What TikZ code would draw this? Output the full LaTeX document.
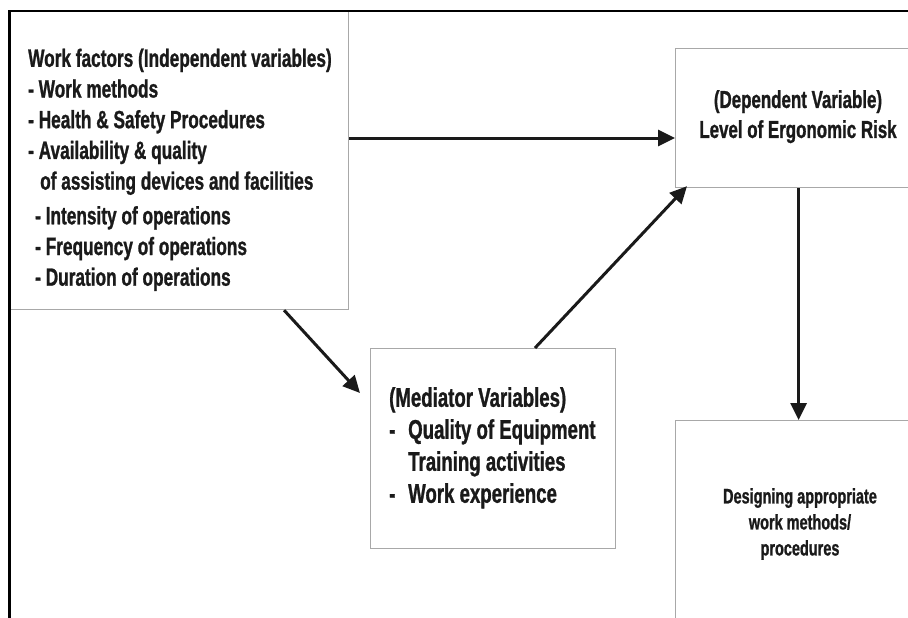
\documentclass[tikz,border=0pt]{standalone}
\usepackage{fontspec}
\newfontfamily\cond[FakeStretch=0.69,FakeBold=1]{Liberation Sans}
\usetikzlibrary{arrows.meta,calc}
\definecolor{ink}{HTML}{1A1A1A}
\definecolor{edge}{HTML}{A8A8A8}
\begin{document}
\begin{tikzpicture}[x=1pt,y=-1pt,
  box/.style={draw=edge,line width=1.2pt,fill=white,inner sep=0pt,anchor=north west},
  arr/.style={draw=ink,line width=3pt,-{Triangle[length=17pt,width=16pt]}},
  txt/.style={text=ink,inner sep=0pt}]
\useasboundingbox (0,0) rectangle (908,618);
% boxes
\node[box,minimum width=338pt,minimum height=298pt] (b1) at (10,11) {};
\node[box,minimum width=246pt,minimum height=139pt] (b2) at (675,48) {};
\node[box,minimum width=245pt,minimum height=200pt] (med) at (370,348) {};
\node[box,minimum width=246pt,minimum height=240pt] (b4) at (675,420) {};
% frame
\draw[line width=2.6pt,black] (9.5,640) -- (9.5,11) -- (920,11);
% texts
\node[txt,anchor=north west,align=left,font=\cond\bfseries\fontsize{25}{30.7}\selectfont] (t1) at (28,48.5)
 {Work factors (Independent variables)\\
  - Work methods\\
  - Health \& Safety Procedures\\
  - Availability \& quality\\
  \hspace*{12pt}of assisting devices and facilities\\[4pt]
  \hspace*{7pt}- Intensity of operations\\
  \hspace*{7pt}- Frequency of operations\\
  \hspace*{7pt}- Duration of operations};
\node[txt,anchor=north,align=center,font=\cond\bfseries\fontsize{24.5}{30}\selectfont] (t2) at (798,90)
 {(Dependent Variable)\\Level of Ergonomic Risk};
\node[txt,anchor=north west,align=left,font=\cond\bfseries\fontsize{27}{32}\selectfont] (t3) at (389,387)
 {(Mediator Variables)\\
  \makebox[19pt][l]{-}Quality of Equipment\\
  \hspace*{19pt}Training activities\\
  \makebox[19pt][l]{-}Work experience};
\node[txt,anchor=north,align=center,font=\cond\bfseries\fontsize{21}{26}\selectfont] (t4) at (800,488)
 {Designing appropriate\\work methods/\\procedures};
% connectors
\coordinate (h1) at (0,138);
\draw[arr] (b1.east |- h1) -- (b2.west |- h1);
\draw[arr] ($(b1.south west)!0.808!(b1.south east)$) -- ($(med.north west)+(-10,45)$);
\draw[arr] ($(med.north west)+(165,0)$) -- ($(b2.south west)+(12,-2)$);
\draw[arr] (b2.south) -- (b4.north);
\end{tikzpicture}
\end{document}
